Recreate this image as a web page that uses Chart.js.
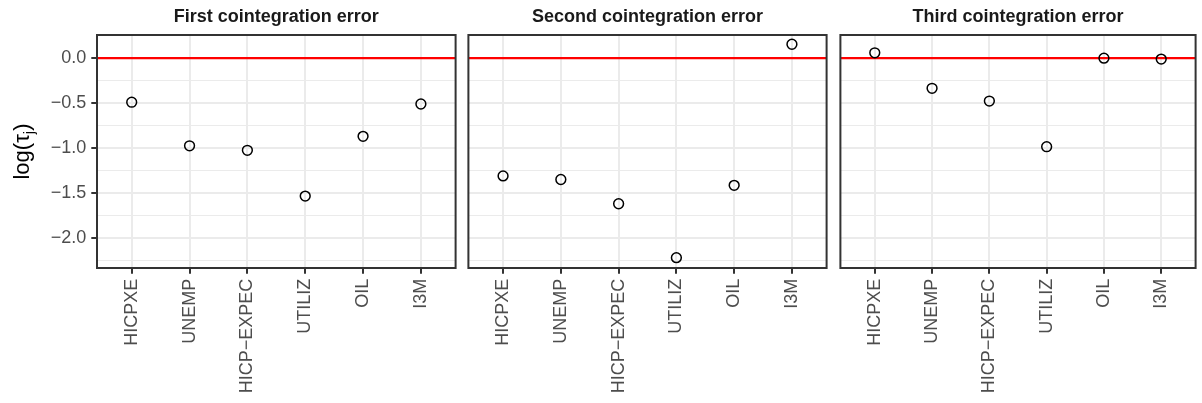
<!DOCTYPE html>
<html>
<head>
<meta charset="utf-8">
<script src="https://cdn.jsdelivr.net/npm/chart.js@4.4.1/dist/chart.umd.min.js"></script>
<style>
  body { margin: 0; background: #fff; width: 1202px; height: 403px; overflow: hidden; position: relative; }
  canvas { position: absolute; top: 0; }
</style>
</head>
<body>
<canvas id="panel1" width="462" height="403" style="left:0px"></canvas>
<canvas id="panel2" width="371" height="403" style="left:462px"></canvas>
<canvas id="panel3" width="368" height="403" style="left:834px"></canvas>
<script>
// ============================
// data
// ============================

const categories = ["HICPXE", "UNEMP", "HICP−EXPEC", "UTILIZ", "OIL", "I3M"];
const panelTitles = ["First cointegration error", "Second cointegration error", "Third cointegration error"];

const firstError  = [-0.49, -0.975, -1.025, -1.535, -0.87, -0.51];
const secondError = [-1.31, -1.35, -1.62, -2.22, -1.415, 0.155];
const thirdError  = [0.06, -0.335, -0.477, -0.985, 0.0, -0.01];

const yMajorTicks = [-2.0, -1.5, -1.0, -0.5, 0.0];
const yMinorTicks = [-2.25, -1.75, -1.25, -0.75, -0.25, 0.25];
const yRange = [-2.335, 0.258];
const refLineValue = 0;

const FONT = "'Liberation Sans', Arial, sans-serif";


// ============================
// panel decorations (title, red line, border, y title)
// ============================

const panelDeco = {
  id: "panelDeco",

  beforeDatasetsDraw(chart) {
    const { ctx, chartArea } = chart;
    const y = chart.scales.y.getPixelForValue(refLineValue);
    ctx.save();
    ctx.strokeStyle = "#FF0000";
    ctx.lineWidth = 2.2;
    ctx.beginPath();
    ctx.moveTo(chartArea.left, y);
    ctx.lineTo(chartArea.right, y);
    ctx.stroke();
    ctx.restore();
  },

  afterDraw(chart, args, opts) {
    const { ctx, chartArea } = chart;

    ctx.save();
    ctx.strokeStyle = "#333333";
    ctx.lineWidth = 2;
    ctx.strokeRect(chartArea.left, chartArea.top, chartArea.right - chartArea.left, chartArea.bottom - chartArea.top);

    ctx.fillStyle = "#1A1A1A";
    ctx.font = "bold 18px " + FONT;
    ctx.textAlign = "center";
    ctx.textBaseline = "alphabetic";
    ctx.fillText(opts.title, (chartArea.left + chartArea.right) / 2, 22);

    if (opts.yTitle) {
      ctx.translate(29, (chartArea.top + chartArea.bottom) / 2);
      ctx.rotate(-Math.PI / 2);
      ctx.fillStyle = "#000000";
      ctx.textAlign = "left";
      ctx.font = "22px " + FONT;
      const wa = ctx.measureText("log(τ").width;
      const wc = ctx.measureText(")").width;
      ctx.font = "15px " + FONT;
      const wb = ctx.measureText("j").width;
      const x0 = -(wa + wb + wc) / 2;
      ctx.font = "22px " + FONT;
      ctx.fillText("log(τ", x0, 0);
      ctx.font = "15px " + FONT;
      ctx.fillText("j", x0 + wa, 5);
      ctx.font = "22px " + FONT;
      ctx.fillText(")", x0 + wa + wb, 0);
    }
    ctx.restore();
  }
};


// ============================
// build one panel
// ============================

function makePanel(canvasId, title, values, showY, padRight) {

  const points = categories.map((c, i) => ({ x: i, y: values[i] }));
  const yTicks = yMinorTicks.concat(yMajorTicks).sort((a, b) => a - b);
  const isMajor = v => yMajorTicks.some(m => Math.abs(m - v) < 1e-9);

  return new Chart(document.getElementById(canvasId), {
    type: "scatter",
    data: {
      datasets: [{
        data: points,
        pointStyle: "circle",
        pointRadius: 4.9,
        pointHoverRadius: 4.9,
        pointBorderWidth: 1.5,
        borderColor: "#000000",
        backgroundColor: "rgba(0,0,0,0)"
      }]
    },
    options: {
      responsive: false,
      animation: false,
      events: [],
      layout: { padding: { top: 35, bottom: 0, left: showY ? 0 : 6, right: padRight } },
      plugins: {
        legend: { display: false },
        tooltip: { enabled: false },
        panelDeco: { title: title, yTitle: showY }
      },
      scales: {
        x: {
          type: "linear",
          min: -0.6,
          max: categories.length - 0.4,
          afterBuildTicks: s => { s.ticks = categories.map((c, i) => ({ value: i })); },
          afterFit: s => { s.height = 135; },
          border: { display: false },
          grid: {
            color: "#EBEBEB",
            lineWidth: 2,
            drawTicks: true,
            tickLength: 5.7,
            tickColor: "#333333",
            tickWidth: 2
          },
          ticks: {
            autoSkip: false,
            minRotation: 90,
            maxRotation: 90,
            padding: 5,
            color: "#4D4D4D",
            font: { family: FONT, size: 18 },
            callback: v => categories[v]
          }
        },
        y: {
          type: "linear",
          min: yRange[0],
          max: yRange[1],
          afterBuildTicks: s => { s.ticks = yTicks.map(v => ({ value: v })); },
          afterFit: s => { s.width = showY ? 97 : 0; },
          border: { display: false },
          grid: {
            color: "#EBEBEB",
            lineWidth: ctx => isMajor(ctx.tick.value) ? 2 : 1,
            drawTicks: showY,
            tickLength: 5.7,
            tickColor: ctx => isMajor(ctx.tick.value) ? "#333333" : "rgba(0,0,0,0)",
            tickWidth: 2
          },
          ticks: {
            display: showY,
            autoSkip: false,
            padding: 5,
            color: "#4D4D4D",
            font: { family: FONT, size: 18 },
            callback: v => isMajor(v) ? v.toFixed(1).replace("-", "−") : ""
          }
        }
      }
    },
    plugins: [panelDeco]
  });
}


// ============================
// draw the three panels
// ============================

makePanel("panel1", panelTitles[0], firstError, true, 6);
makePanel("panel2", panelTitles[1], secondError, false, 6);
makePanel("panel3", panelTitles[2], thirdError, false, 3);
</script>
</body>
</html>
